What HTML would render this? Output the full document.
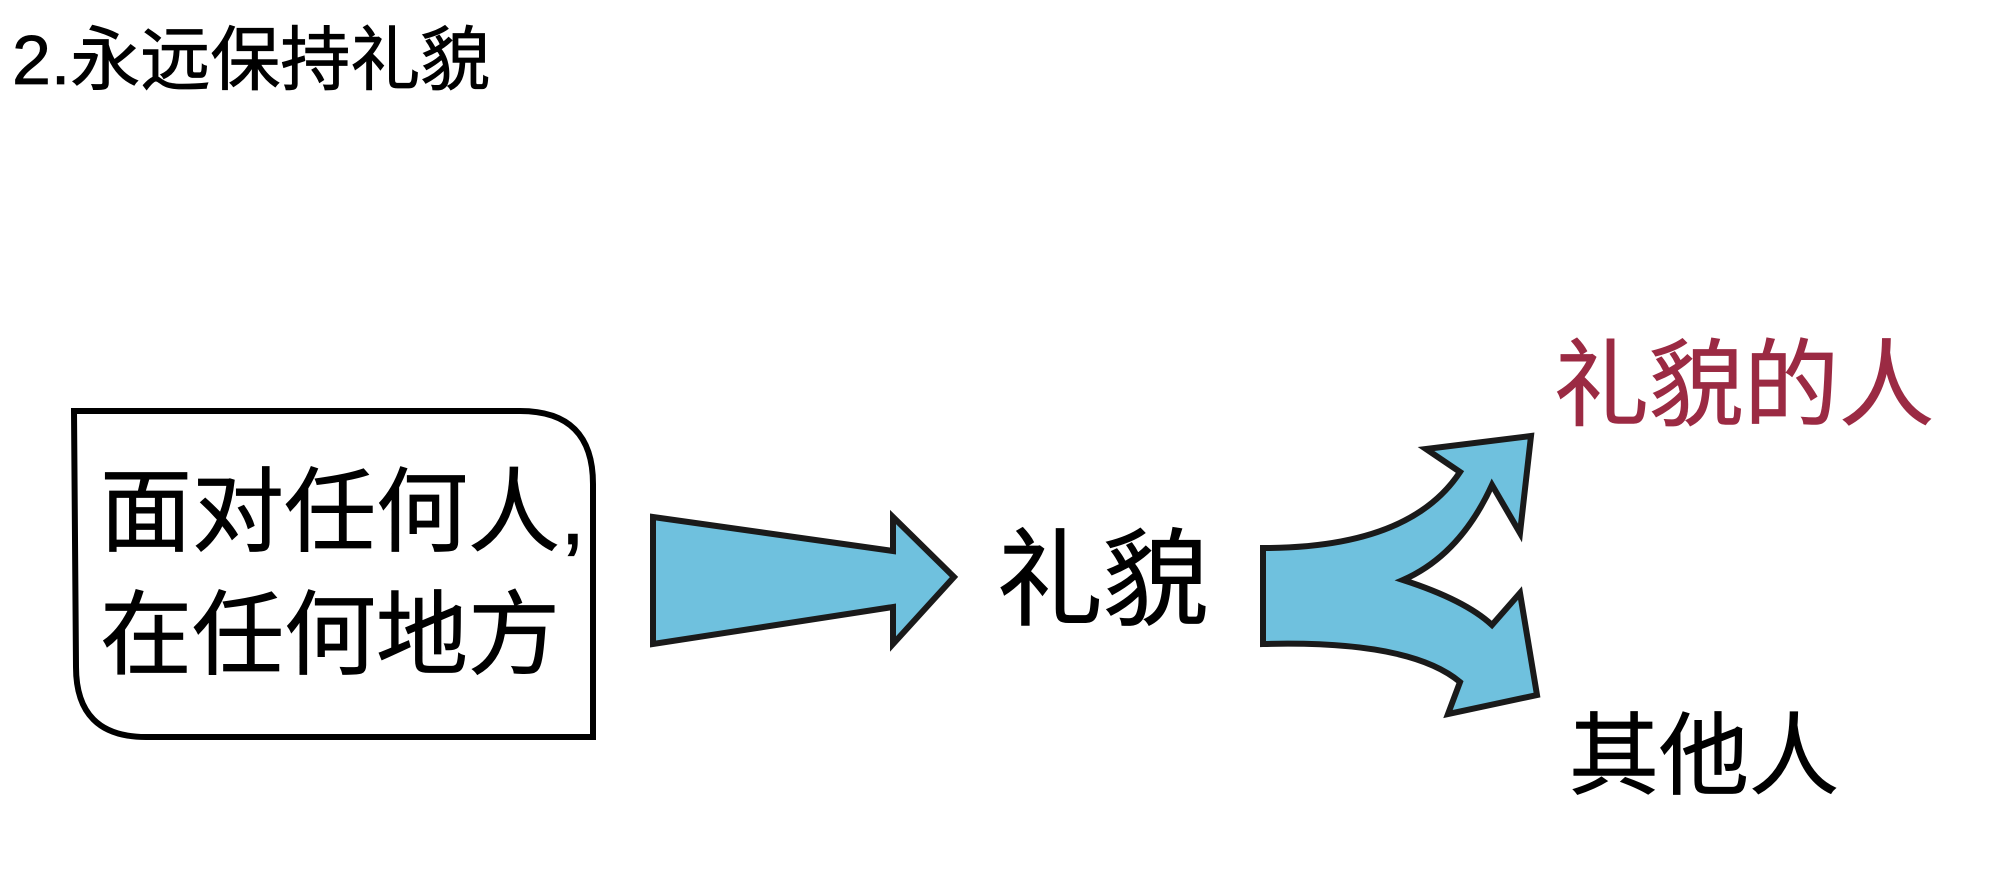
<!DOCTYPE html>
<html><head><meta charset="utf-8"><style>
html,body{margin:0;padding:0;background:#fff;}
svg{display:block;}
text{font-family:"Liberation Sans","Noto Sans CJK SC",sans-serif;}
</style></head><body>
<svg width="2000" height="887" viewBox="0 0 2000 887" xmlns="http://www.w3.org/2000/svg">
<rect width="2000" height="887" fill="#fff"/>
<text x="12" y="84" font-size="70" fill="#000" stroke="#000" stroke-width="0.8">2.永远保持礼貌</text>
<path d="M74,411 L520,411 Q593,411 593,484 L593,737 L146,737 Q76,737 76,667 Z" fill="#fff" stroke="#000" stroke-width="6"/>
<text x="100" y="544" font-size="92" fill="#000" stroke="#000" stroke-width="0.8">面对任何人,</text>
<text x="100" y="667" font-size="92" fill="#000" stroke="#000" stroke-width="0.8">在任何地方</text>
<path d="M653,517 L893,551 L893,517 L954,577 L893,644 L893,607 L653,644 Z" fill="#6fc1de" stroke="#1a1a1a" stroke-width="6" stroke-linejoin="miter"/>
<text x="997" y="617" font-size="106" fill="#000" stroke="#000" stroke-width="0.8">礼貌</text>
<path d="M1263,548 Q1410,548 1460,472 L1426,449 L1531,436 L1520,533 L1492,485 Q1460,555 1403,580 Q1465,600 1492,625 L1520,593 L1537,695 L1448,714 L1460,682 Q1410,640 1263,644 Z" fill="#6fc1de" stroke="#1a1a1a" stroke-width="6" stroke-linejoin="miter"/>
<text x="1554" y="418" font-size="95" fill="#9b2a43" stroke="#9b2a43" stroke-width="0.8">礼貌的人</text>
<text x="1569" y="787" font-size="90" fill="#000" stroke="#000" stroke-width="0.8">其他人</text>
</svg>
</body></html>
